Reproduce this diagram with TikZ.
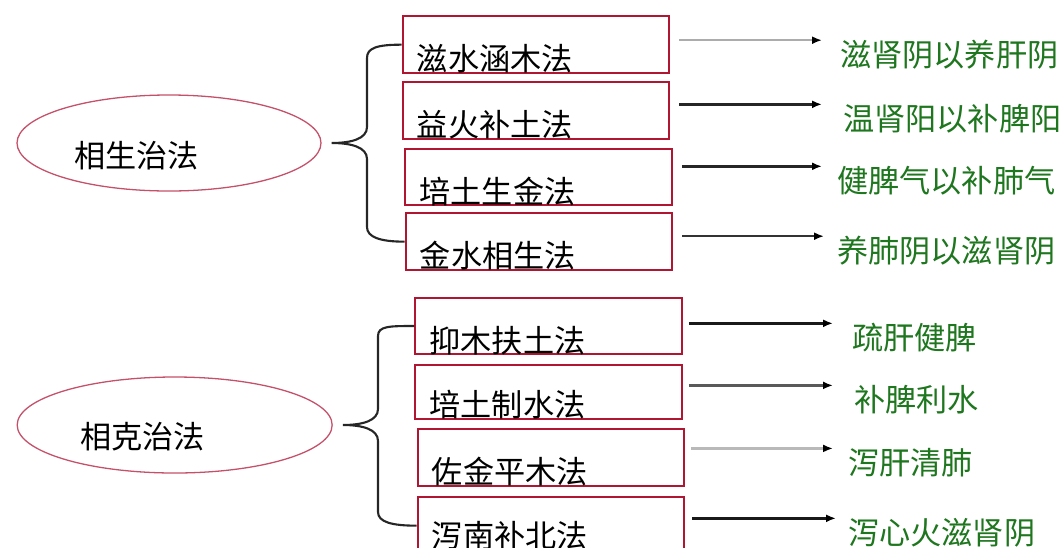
\documentclass[tikz,border=0pt]{standalone}
\usepackage{fontspec}
\newfontfamily\cjk{Noto Sans CJK SC}
\usepackage{tikz}
\usetikzlibrary{arrows.meta, positioning, shapes.geometric, calc}
\definecolor{boxred}{RGB}{176,22,50}
\definecolor{ellred}{RGB}{196,80,105}
\definecolor{resgreen}{RGB}{30,118,30}

\begin{document}
\begin{tikzpicture}[
    method/.style={draw=boxred, line width=1.6pt, minimum width=8cm, minimum height=1.7cm, inner sep=0pt},
    law/.style={ellipse, draw=ellred, line width=1.1pt, minimum width=9.12cm, minimum height=2.88cm, inner sep=0pt},
    txt/.style={font=\cjk\fontsize{26.6}{30}\selectfont, inner sep=0pt, anchor=west},
    res/.style={txt, text=resgreen},
    brc/.style={line width=1.8pt, black!85},
    arr/.style={line width=2.2pt, -{Latex[length=3mm, width=2.4mm, color=black]}}
]
    \useasboundingbox (0,0) rectangle (31.92,-16.41);

    % Mutual generation: root ellipse and its four methods
    \node[law] (sheng) at (5.07,-4.29) {};
    \node[txt] at (2.22,-4.68) {相生治法};

    \node[method] (box1) at (16.08,-1.34) {};
    \node[method] (box2) at (16.08,-3.32) {};
    \node[method] (box3) at (16.16,-5.31) {};
    \node[method] (box4) at (16.17,-7.25) {};
    \node[txt] at ([xshift=0.45cm, yshift=0.45cm]box1.south west) {滋水涵木法};
    \node[txt] at ([xshift=0.45cm, yshift=0.45cm]box2.south west) {益火补土法};
    \node[txt] at ([xshift=0.45cm, yshift=0.45cm]box3.south west) {培土生金法};
    \node[txt] at ([xshift=0.45cm, yshift=0.45cm]box4.south west) {金水相生法};

    \node[res] (res1) at (25.20,-1.65) {滋肾阴以养肝阴};
    \node[res] (res2) at (25.29,-3.57) {温肾阳以补脾阳};
    \node[res] (res3) at (25.11,-5.43) {健脾气以补肺气};
    \node[res] (res4) at (25.11,-7.53) {养肺阴以滋肾阴};

    \draw[brc] (box1.west) .. controls +(-0.75,0) and +(0,0.3) .. (11.01,-1.74) -- (11.01,-3.81)
        .. controls +(0,-0.35) and +(0.6,0) .. ([xshift=0.3cm]sheng.east)
        .. controls +(0.6,0) and +(0,0.35) .. (11.01,-4.77) -- (11.01,-6.81)
        .. controls +(0,-0.3) and +(-0.75,0) .. (box4.west);

    \draw[arr, gray!65] (box1.east |- res1.north west) ++(0.27,0) -- ([xshift=-0.54cm]res1.north west);
    \draw[arr, black!85] (box2.east |- res2.north west) ++(0.27,0) -- ([xshift=-0.63cm]res2.north west);
    \draw[arr, black!85] (box3.east |- res3.north west) ++(0.27,0) -- ([xshift=-0.45cm]res3.north west);
    \draw[arr, black!80] (box4.east |- res4.north west) ++(0.27,0) -- ([xshift=-0.39cm]res4.north west);

    % Mutual restriction: root ellipse and its four methods
    \node[law, minimum width=9.45cm] (ke) at (5.24,-12.75) {};
    \node[txt] at (2.40,-13.11) {相克治法};

    \node[method] (box5) at (16.46,-9.78) {};
    \node[method, minimum height=1.62cm] (box6) at (16.46,-11.76) {};
    \node[method] (box7) at (16.53,-13.73) {};
    \node[method] (box8) at (16.53,-15.77) {};
    \node[txt] at ([xshift=0.45cm, yshift=0.45cm]box5.south west) {抑木扶土法};
    \node[txt] at ([xshift=0.45cm, yshift=0.45cm]box6.south west) {培土制水法};
    \node[txt] at ([xshift=0.45cm, yshift=0.45cm]box7.south west) {佐金平木法};
    \node[txt] at ([xshift=0.45cm, yshift=0.58cm]box8.south west) {泻南补北法};

    \node[res] (res5) at (25.56,-10.14) {疏肝健脾};
    \node[res] (res6) at (25.62,-12.00) {补脾利水};
    \node[res] (res7) at (25.44,-13.89) {泻肝清肺};
    \node[res] (res8) at (25.44,-15.99) {泻心火滋肾阴};

    \draw[brc] (box5.west) .. controls +(-0.75,0) and +(0,0.3) .. (11.34,-10.08) -- (11.34,-12.27)
        .. controls +(0,-0.35) and +(0.6,0) .. ([xshift=0.3cm]ke.east)
        .. controls +(0.6,0) and +(0,0.35) .. (11.34,-13.23) -- (11.34,-15.36)
        .. controls +(0,-0.3) and +(-0.75,0) .. (box8.west);

    \draw[arr, black!90] (box5.east |- res5.north west) ++(0.18,0) -- ([xshift=-0.57cm]res5.north west);
    \draw[arr, black!65] (box6.east |- res6.north west) ++(0.18,0) -- ([xshift=-0.63cm]res6.north west);
    \draw[arr, gray!55] (box7.east |- res7.north west) ++(0.18,0) -- ([xshift=-0.45cm]res7.north west);
    \draw[arr, black!90] (box8.east |- res8.north west) ++(0.21,0) -- ([xshift=-0.36cm]res8.north west);
\end{tikzpicture}
\end{document}
